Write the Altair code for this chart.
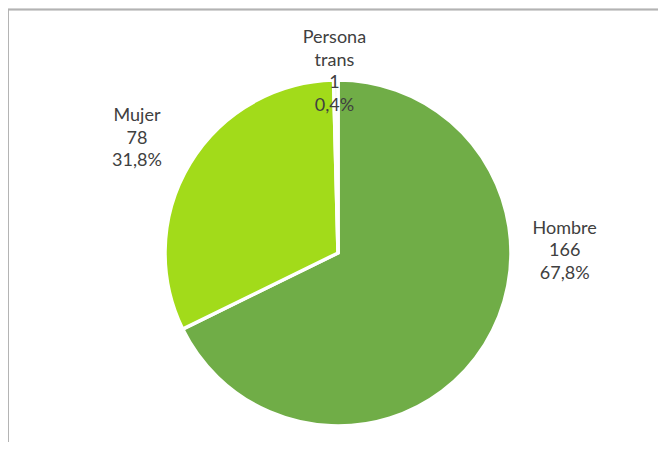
import altair as alt
import pandas as pd

categories = ["Hombre", "Mujer", "Persona trans"]
counts = [166, 78, 1]
percents = ["67,8%", "31,8%", "0,4%"]
colors = ["#70AD47", "#A2DB1A", "#E2EFDA"]

df = pd.DataFrame({
    "cat": categories,
    "n": counts,
    "pct": percents,
    "order": list(range(len(categories))),
})
df["label"] = [
    "\n".join(c.split(" ") + [str(n), p])
    for c, n, p in zip(df["cat"], df["n"], df["pct"])
]

W, H = 650, 434
CX, CY = 330, 245

base = alt.Chart(df).encode(
    theta=alt.Theta("n:Q", stack=True),
    order=alt.Order("order:Q"),
)

pie = base.mark_arc(outerRadius=173, stroke="white", strokeWidth=3.5).encode(
    color=alt.Color("cat:N", scale=alt.Scale(domain=categories, range=colors), legend=None),
    x=alt.value(CX), y=alt.value(CY),
)

offsets = {"Hombre": (57, -130), "Mujer": (-30, -33), "Persona trans": (-1, -15)}
labels = []
for c in categories:
    dx, dy = offsets[c]
    labels.append(
        base.mark_text(radius=200, font="Lato", fontSize=18, color="#404040",
                       lineBreak="\n", lineHeight=22.5, align="center", baseline="middle",
                       dx=dx, dy=dy)
        .encode(text=alt.condition(alt.datum.cat == c, alt.Text("label:N"), alt.value("")),
                x=alt.value(CX), y=alt.value(CY))
    )

frame_top = alt.Chart(df).mark_rule(color="#B3B3B3", strokeWidth=1.5).encode(
    x=alt.value(0), x2=alt.value(W), y=alt.value(1.5)
)
frame_left = alt.Chart(df).mark_rule(color="#B3B3B3", strokeWidth=1.5).encode(
    x=alt.value(0), y=alt.value(1.5), y2=alt.value(H)
)

chart = alt.layer(pie, *labels, frame_top, frame_left).properties(
    width=W, height=H, padding=0, autosize=alt.AutoSizeParams(type="none")
).configure_view(stroke=None)

chart.save("out.html", embed_options={"renderer": "svg", "actions": False})
